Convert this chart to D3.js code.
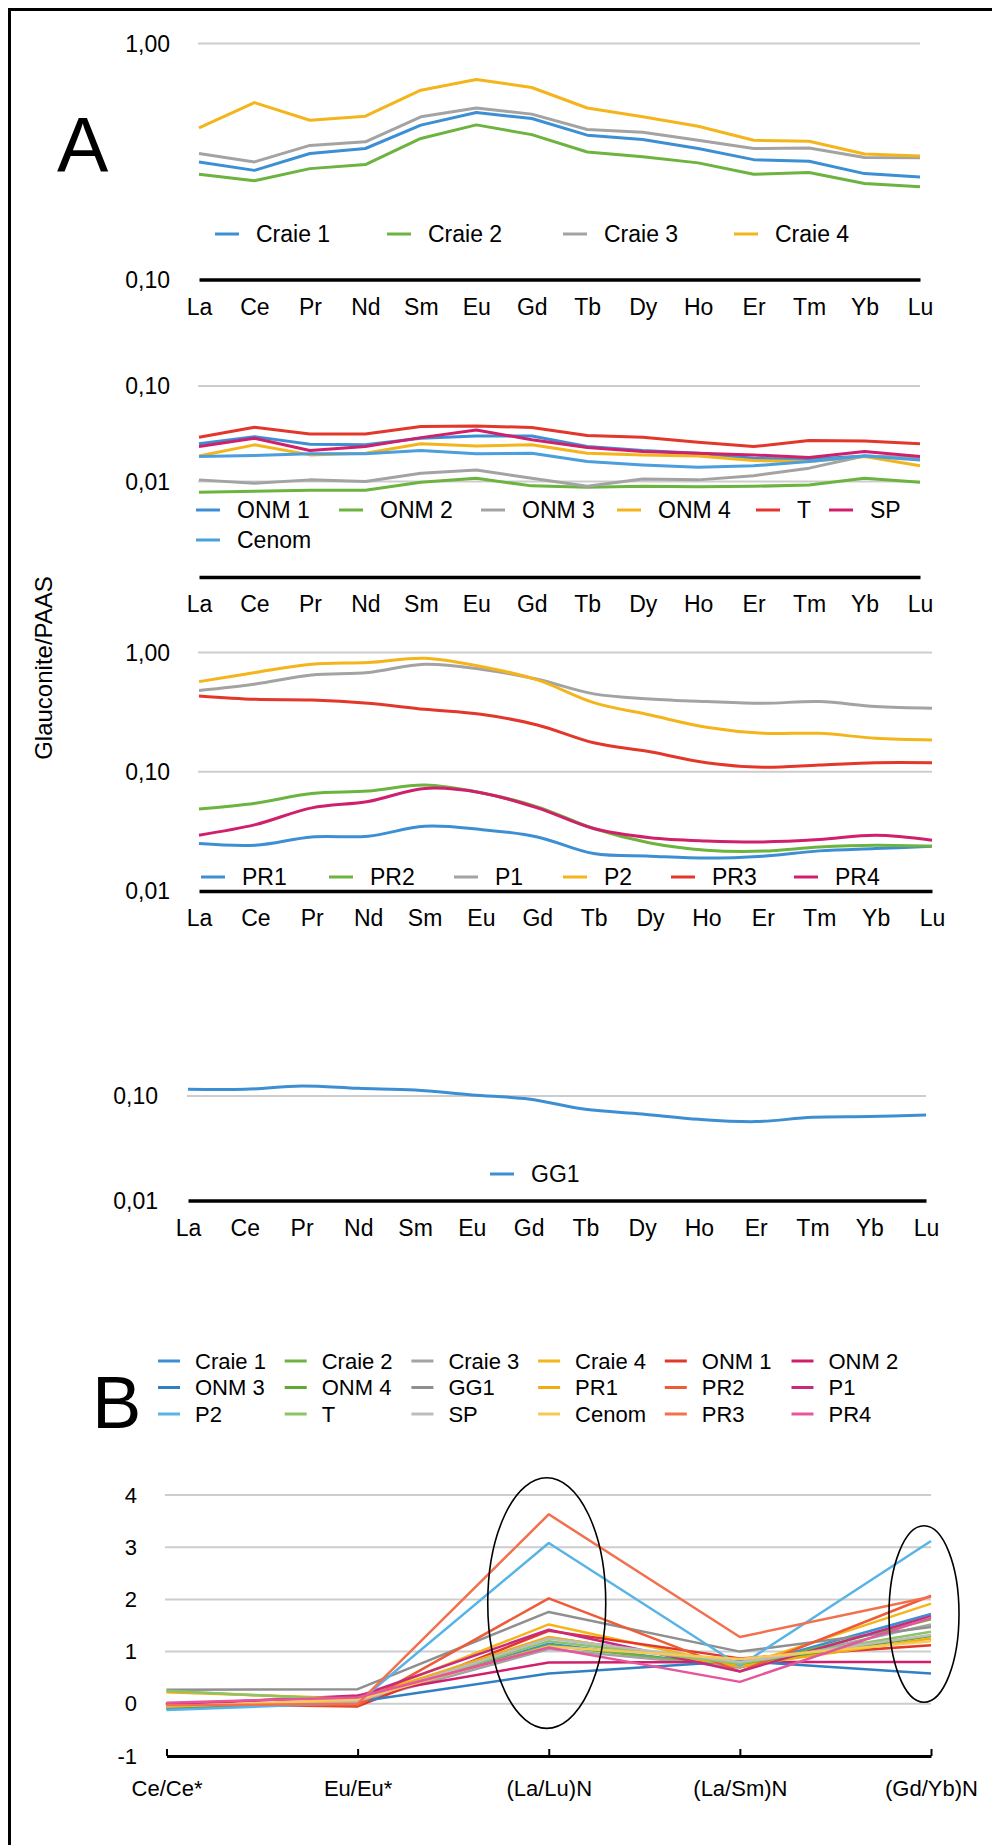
<!DOCTYPE html>
<html>
<head>
<meta charset="utf-8">
<script src="https://cdn.jsdelivr.net/npm/d3@7"></script>
<style>
  body { margin: 0; background: #fff; }
  svg { display: block; font-family: "Liberation Sans", Arial, Helvetica, sans-serif; }
</style>
</head>
<body>
<svg id="fig" width="992" height="1845"></svg>
<script>
// REE sequence on the x axis of the four spider diagrams
const ree = ["La", "Ce", "Pr", "Nd", "Sm", "Eu", "Gd", "Tb", "Dy", "Ho", "Er", "Tm", "Yb", "Lu"];

// panel A1 - chalk samples (Glauconite/PAAS)
const craie1 = [0.315, 0.290, 0.342, 0.359, 0.451, 0.510, 0.481, 0.409, 0.392, 0.359, 0.322, 0.317, 0.281, 0.272];
const craie2 = [0.279, 0.262, 0.295, 0.307, 0.396, 0.452, 0.411, 0.347, 0.331, 0.312, 0.279, 0.284, 0.255, 0.247];
const craie3 = [0.342, 0.315, 0.370, 0.383, 0.489, 0.533, 0.502, 0.432, 0.421, 0.389, 0.359, 0.361, 0.329, 0.328];
const craie4 = [0.439, 0.562, 0.473, 0.492, 0.634, 0.704, 0.651, 0.533, 0.489, 0.446, 0.389, 0.385, 0.340, 0.334];

// panel A2
const onm1  = [0.0248, 0.0295, 0.0246, 0.0242, 0.0284, 0.0300, 0.0300, 0.0232, 0.0211, 0.0198, 0.0175, 0.0171, 0.0185, 0.0175];
const onm2  = [0.0077, 0.0079, 0.0081, 0.0081, 0.0098, 0.0108, 0.0090, 0.0087, 0.0089, 0.0088, 0.0089, 0.0092, 0.0108, 0.0098];
const onm3  = [0.0104, 0.0096, 0.0104, 0.0100, 0.0122, 0.0132, 0.0108, 0.0089, 0.0106, 0.0104, 0.0115, 0.0138, 0.0185, 0.0175];
const onm4  = [0.0185, 0.0242, 0.0190, 0.0198, 0.0248, 0.0236, 0.0242, 0.0198, 0.0190, 0.0185, 0.0166, 0.0162, 0.0183, 0.0146];
const sT    = [0.0290, 0.0370, 0.0315, 0.0315, 0.0376, 0.0382, 0.0367, 0.0303, 0.0290, 0.0258, 0.0232, 0.0268, 0.0266, 0.0248];
const sSP   = [0.0232, 0.0284, 0.0211, 0.0232, 0.0288, 0.0347, 0.0273, 0.0227, 0.0206, 0.0198, 0.0190, 0.0178, 0.0206, 0.0183];
const cenom = [0.0183, 0.0187, 0.0195, 0.0195, 0.0211, 0.0195, 0.0198, 0.0162, 0.0149, 0.0141, 0.0146, 0.0162, 0.0185, 0.0168];

// panel A3
const pr1 = [0.0250, 0.0242, 0.0284, 0.0288, 0.0349, 0.0328, 0.0284, 0.0206, 0.0196, 0.0189, 0.0196, 0.0217, 0.0227, 0.0237];
const pr2 = [0.0486, 0.0545, 0.0657, 0.0688, 0.0773, 0.0667, 0.0508, 0.0334, 0.0253, 0.0220, 0.0216, 0.0234, 0.0242, 0.0237];
const p1  = [0.480, 0.545, 0.649, 0.679, 0.798, 0.725, 0.597, 0.450, 0.408, 0.388, 0.375, 0.388, 0.352, 0.341];
const p2  = [0.570, 0.679, 0.798, 0.824, 0.896, 0.763, 0.589, 0.380, 0.299, 0.236, 0.210, 0.210, 0.191, 0.185];
const pr3 = [0.432, 0.405, 0.400, 0.375, 0.334, 0.303, 0.247, 0.175, 0.147, 0.119, 0.109, 0.114, 0.119, 0.119];
const pr4 = [0.0294, 0.0360, 0.0498, 0.0563, 0.0724, 0.0667, 0.0498, 0.0334, 0.0280, 0.0263, 0.0258, 0.0270, 0.0294, 0.0267];

// panel A4
const gg1 = [0.1158, 0.1158, 0.1246, 0.1184, 0.1141, 0.1022, 0.0936, 0.0746, 0.0673, 0.0598, 0.0569, 0.0625, 0.0635, 0.0658];

// panel B - ratios for all samples, in legend order
const ratioLabels = ["Ce/Ce*", "Eu/Eu*", "(La/Lu)N", "(La/Sm)N", "(Gd/Yb)N"];
const bNames = ["Craie 1", "Craie 2", "Craie 3", "Craie 4", "ONM 1", "ONM 2",
                "ONM 3", "ONM 4", "GG1", "PR1", "PR2", "P1",
                "P2", "T", "SP", "Cenom", "PR3", "PR4"];
const ceAnom = [-0.08, -0.06, -0.05, 0.24, 0.00, -0.02, -0.10, -0.07, 0.27, 0.22, -0.02, 0.00, -0.12, 0.25, -0.04, -0.05, -0.03, 0.02];
const euAnom = [0.05, 0.06, 0.04, 0.08, -0.05, 0.16, 0.04, 0.06, 0.28, 0.10, -0.03, 0.14, 0.02, 0.07, 0.05, 0.08, 0.00, 0.12];
const laLu   = [1.15, 1.12, 1.05, 1.52, 1.40, 0.79, 0.58, 1.27, 1.76, 1.28, 2.02, 1.42, 3.08, 1.20, 1.25, 1.10, 3.63, 1.08];
const laSm   = [0.70, 0.70, 0.70, 0.72, 0.87, 0.80, 0.82, 0.75, 1.00, 0.72, 0.62, 0.62, 0.73, 0.77, 0.80, 0.86, 1.28, 0.42];
const gdYb   = [1.72, 1.62, 1.52, 1.92, 1.12, 0.80, 0.58, 1.30, 1.47, 1.25, 2.07, 1.68, 3.12, 1.38, 1.32, 1.20, 2.05, 1.65];

const yTicksB = [-1, 0, 1, 2, 3, 4];

// palette (Numbers style)
const blue = "#3d8fd4", green = "#6cb33f", gray = "#a3a3a3", yellow = "#f3b51b", red = "#e2372a", magenta = "#d1206b";
const bColors = [blue, green, gray, yellow, red, magenta,
                 "#2f80c4", "#5fa832", "#8f8f8f", "#f0ad10", "#ee5b36", "#c92a7c",
                 "#58b4e6", "#8dc46a", "#bcbcbc", "#f7c955", "#f2704d", "#e6569c"];

const svg = d3.select("#fig");
const fr = d3.formatLocale({ decimal: ",", thousands: ".", grouping: [3], currency: ["", " €"] });
const fmt2 = fr.format(".2f");
const FS = 23;

// frame
svg.append("path").attr("d", "M9.5,1845 V9.5 H992")
    .attr("fill", "none").attr("stroke", "#000").attr("stroke-width", 3);

function logPanel(cfg) {
    const x = d3.scalePoint().domain(ree).range([cfg.x0, cfg.x1]);
    const y = d3.scaleLog().domain(cfg.domain).range(cfg.range);
    const g = svg.append("g");

    g.selectAll(".grid").data(cfg.grid).join("line")
        .attr("x1", cfg.x0 - 1).attr("x2", cfg.x1)
        .attr("y1", d => y(d)).attr("y2", d => y(d))
        .attr("stroke", "#cdcdcd").attr("stroke-width", 2);

    const ax = g.append("g")
        .attr("transform", `translate(0,${y(cfg.domain[0])})`)
        .call(d3.axisBottom(x).tickSize(0).tickPadding(19));
    ax.select(".domain").attr("stroke", "#000").attr("stroke-width", 3.5);
    ax.selectAll("text").attr("font-size", FS).attr("fill", "#000")
        .attr("font-family", "Liberation Sans, Arial, sans-serif");

    g.selectAll(".ylab").data(cfg.labels).join("text")
        .attr("x", cfg.labelX).attr("y", d => y(d))
        .attr("text-anchor", "end").attr("dominant-baseline", "central")
        .attr("font-size", FS).text(d => fmt2(d));

    const line = d3.line().x((d, i) => x(ree[i])).y(d => y(d)).curve(cfg.curve);
    g.selectAll(".ser").data(cfg.series).join("path")
        .attr("d", d => line(d.values))
        .attr("fill", "none").attr("stroke", d => d.color)
        .attr("stroke-width", 3).attr("stroke-linejoin", "round");

    // legend
    const lg = g.append("g");
    cfg.series.forEach((s, i) => {
        const pos = cfg.legendPos[i];
        lg.append("line").attr("x1", pos[0]).attr("x2", pos[0] + 24)
            .attr("y1", pos[1]).attr("y2", pos[1])
            .attr("stroke", s.color).attr("stroke-width", 3);
        lg.append("text").attr("x", pos[0] + 41).attr("y", pos[1])
            .attr("dominant-baseline", "central").attr("font-size", FS).text(s.name);
    });
}

logPanel({
    x0: 199, x1: 920, domain: [0.1, 1], range: [279.5, 43.5],
    grid: [1], labels: [1, 0.1], labelX: 170, curve: d3.curveLinear,
    series: [
        { name: "Craie 1", values: craie1, color: blue },
        { name: "Craie 2", values: craie2, color: green },
        { name: "Craie 3", values: craie3, color: gray },
        { name: "Craie 4", values: craie4, color: yellow }
    ],
    legendPos: [[215, 234], [387, 234], [563, 234], [734, 234]]
});

logPanel({
    x0: 199, x1: 920, domain: [0.001, 0.1], range: [577, 386],
    grid: [0.1, 0.01], labels: [0.1, 0.01], labelX: 170, curve: d3.curveLinear,
    series: [
        { name: "ONM 1", values: onm1, color: blue },
        { name: "ONM 2", values: onm2, color: green },
        { name: "ONM 3", values: onm3, color: gray },
        { name: "ONM 4", values: onm4, color: yellow },
        { name: "T", values: sT, color: red },
        { name: "SP", values: sSP, color: magenta },
        { name: "Cenom", values: cenom, color: "#4a9fdc" }
    ],
    legendPos: [[196, 510], [339, 510], [481, 510], [617, 510], [756, 510], [829, 510], [196, 540]]
});

logPanel({
    x0: 199, x1: 932, domain: [0.01, 1], range: [891, 652.5],
    grid: [1, 0.1], labels: [1, 0.1, 0.01], labelX: 170, curve: d3.curveCatmullRom,
    series: [
        { name: "PR1", values: pr1, color: blue },
        { name: "PR2", values: pr2, color: green },
        { name: "P1", values: p1, color: gray },
        { name: "P2", values: p2, color: yellow },
        { name: "PR3", values: pr3, color: red },
        { name: "PR4", values: pr4, color: magenta }
    ],
    legendPos: [[201, 877], [329, 877], [454, 877], [563, 877], [671, 877], [794, 877]]
});

logPanel({
    x0: 188, x1: 926, domain: [0.01, 0.1], range: [1200.5, 1096],
    grid: [0.1], labels: [0.1, 0.01], labelX: 158, curve: d3.curveCatmullRom,
    series: [{ name: "GG1", values: gg1, color: blue }],
    legendPos: [[490, 1174]]
});

// big panel letters and y title
svg.append("text").attr("x", 57).attr("y", 172).attr("font-size", 77).text("A");
svg.append("text").attr("x", 92).attr("y", 1428).attr("font-size", 74).text("B");
svg.append("text").attr("transform", "translate(52,668) rotate(-90)")
    .attr("text-anchor", "middle").attr("font-size", 24).text("Glauconite/PAAS");

// ---- panel B ----
const xb = d3.scalePoint().domain(ratioLabels).range([166.5, 931]);
const yb = d3.scaleLinear().domain([-1, 4]).range([1756, 1495]);
const gb = svg.append("g");

gb.selectAll(".grid").data(yTicksB.filter(d => d > -1)).join("line")
    .attr("x1", 165).attr("x2", 931)
    .attr("y1", d => yb(d)).attr("y2", d => yb(d))
    .attr("stroke", "#cdcdcd").attr("stroke-width", 2);

gb.selectAll(".ylab").data(yTicksB).join("text")
    .attr("x", 137).attr("y", d => yb(d))
    .attr("text-anchor", "end").attr("dominant-baseline", "central")
    .attr("font-size", 22).text(d => d);

const bSeries = bNames.map((name, i) => ({
    name, color: bColors[i],
    values: [ceAnom[i], euAnom[i], laLu[i], laSm[i], gdYb[i]]
}));

const lineB = d3.line().x((d, i) => xb(ratioLabels[i])).y(d => yb(d));
gb.selectAll(".ser").data(bSeries).join("path")
    .attr("d", d => lineB(d.values))
    .attr("fill", "none").attr("stroke", d => d.color)
    .attr("stroke-width", 2.5).attr("stroke-linejoin", "round");

const axB = gb.append("g").attr("transform", `translate(0,${yb(-1)})`)
    .call(d3.axisBottom(xb).tickSizeInner(-7).tickSizeOuter(0).tickPadding(24));
axB.select(".domain").attr("stroke", "#000").attr("stroke-width", 3);
axB.selectAll(".tick line").attr("stroke", "#000").attr("stroke-width", 2);
axB.selectAll("text").attr("font-size", 22).attr("fill", "#000")
    .attr("font-family", "Liberation Sans, Arial, sans-serif");

// highlight ellipses
gb.append("ellipse").attr("cx", xb("(La/Lu)N") - 2).attr("cy", yb(1.93))
    .attr("rx", 59).attr("ry", yb(0) - yb(2.4))
    .attr("fill", "none").attr("stroke", "#000").attr("stroke-width", 1.6);
gb.append("ellipse").attr("cx", xb("(Gd/Yb)N") - 7).attr("cy", yb(1.72))
    .attr("rx", 35).attr("ry", yb(0) - yb(1.69))
    .attr("fill", "none").attr("stroke", "#000").attr("stroke-width", 1.6);

// panel B legend, 6 columns x 3 rows
const lgB = gb.append("g");
bSeries.forEach((s, i) => {
    const cx = 158 + (i % 6) * 126.7;
    const cy = 1361 + Math.floor(i / 6) * 26.5;
    lgB.append("line").attr("x1", cx).attr("x2", cx + 22).attr("y1", cy).attr("y2", cy)
        .attr("stroke", s.color).attr("stroke-width", 3);
    lgB.append("text").attr("x", cx + 37).attr("y", cy)
        .attr("dominant-baseline", "central").attr("font-size", 22).text(s.name);
});
</script>
</body>
</html>
